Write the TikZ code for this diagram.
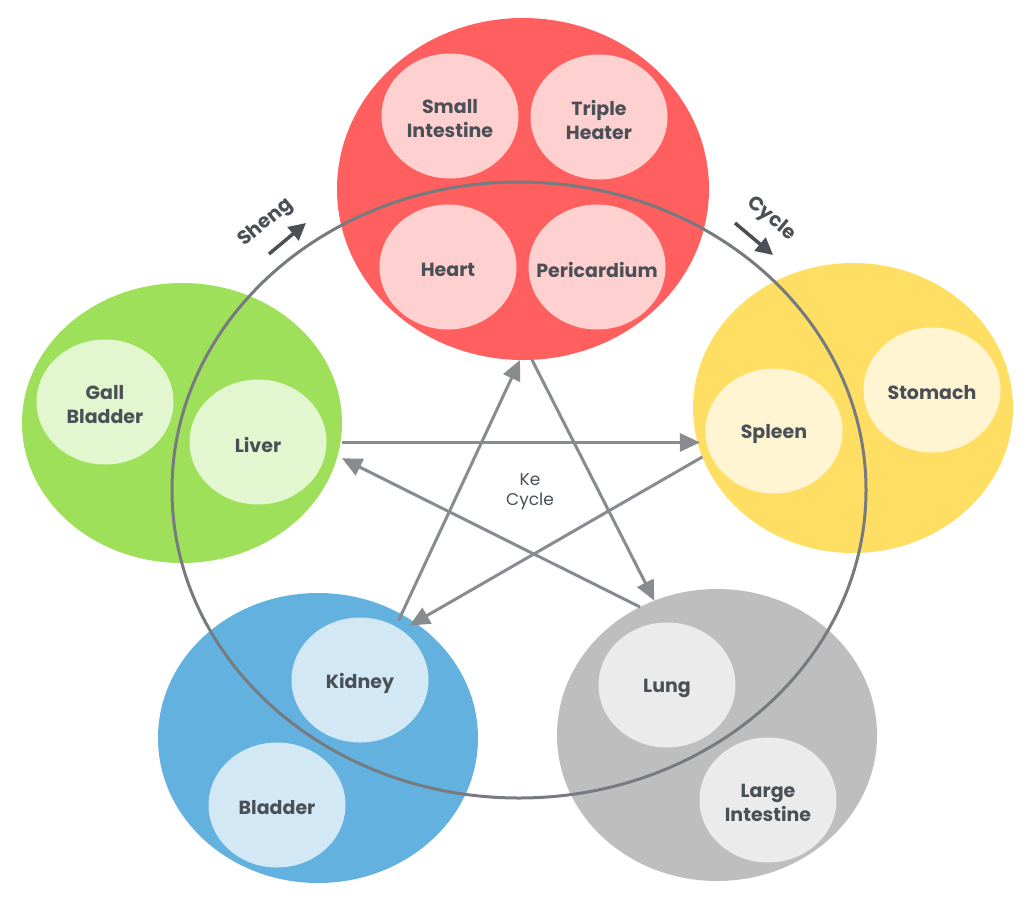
\documentclass[tikz,border=0pt]{standalone}
\usepackage{fontspec}
\setmainfont{Poppins}
\usetikzlibrary{shapes.geometric,arrows.meta}
\definecolor{firec}{HTML}{FF5F5F}
\definecolor{firein}{HTML}{FFD0D0}
\definecolor{woodc}{HTML}{9FE05A}
\definecolor{woodin}{HTML}{E2F6D0}
\definecolor{earthc}{HTML}{FFDF63}
\definecolor{earthin}{HTML}{FFF5D3}
\definecolor{waterc}{HTML}{62B1DF}
\definecolor{waterin}{HTML}{D2E8F5}
\definecolor{metalc}{HTML}{BEBEBE}
\definecolor{metalin}{HTML}{EBEBEB}
\definecolor{txtc}{HTML}{4B5057}
\definecolor{ringc}{HTML}{777A7F}
\definecolor{arrowc}{HTML}{888B90}
\tikzset{
  outer/.style={ellipse, inner sep=0pt, outer sep=0pt, minimum width=320pt, minimum height=290pt},
  orgtext/.style={text=txtc, font=\fontsize{19}{24}\selectfont\bfseries, align=center, inner sep=0pt, yshift=-3pt},
  organ/.style={ellipse, inner sep=0pt, outer sep=0pt, minimum width=137pt, minimum height=125pt,
    label={[orgtext]center:#1}},
  kearrow/.style={draw=arrowc, line width=3pt, -{Triangle[length=20pt,width=18pt]}},
  shengarrow/.style={draw=txtc, line width=3.5pt, -{Triangle[length=17pt,width=17pt]}},
  biglabel/.style={text=txtc, font=\fontsize{19.5}{24}\selectfont\bfseries, inner sep=0pt},
}
\begin{document}
\begin{tikzpicture}[x=1pt,y=-1pt]
\useasboundingbox (0,0) rectangle (1030,905);
\fill[white] (0,0) rectangle (1030,905);

% outer element ellipses
\node[outer, fill=firec, minimum width=372pt, minimum height=342pt] (fire) at (523,189) {};
\node[outer, fill=woodc, minimum height=280pt] (wood) at (182,423) {};
\node[outer, fill=earthc] (earth) at (853,408) {};
\node[outer, fill=waterc] (water) at (318,738) {};
\node[outer, fill=metalc, minimum height=292pt] (metal) at (717,735) {};

% organs
\node[organ={Small\\Intestine}, fill=firein] (smallint) at (450,116) {};
\node[organ={Triple\\Heater}, fill=firein] (triple) at (599,117) {};
\node[organ={Heart}, fill=firein] (heart) at (448,267) {};
\node[organ={Pericardium}, fill=firein] (peri) at (597,267) {};
\node[organ={Gall\\Bladder}, fill=woodin] (gall) at (105,402) {};
\node[organ={Liver}, fill=woodin] (liver) at (258,442) {};
\node[organ={Spleen}, fill=earthin] (spleen) at (774,431) {};
\node[organ={Stomach}, fill=earthin] (stomach) at (932,390) {};
\node[organ={Kidney}, fill=waterin] (kidney) at (360,680) {};
\node[organ={Bladder}, fill=waterin] (bladder) at (277,805) {};
\node[organ={Lung}, fill=metalin] (lung) at (667,685) {};
\node[organ={Large\\Intestine}, fill=metalin] (largeint) at (768,800) {};

% Sheng cycle ring
\node[ellipse, draw=ringc, line width=3pt, inner sep=0pt, minimum width=694pt, minimum height=616pt] (ring) at (519,490) {};

% Ke cycle arrows
\draw[kearrow, shorten <=2pt, shorten >=-2pt] (wood.-7) -- (wood.-7 -| earth.-167);
\draw[kearrow, shorten >=-6pt] (earth.-162) -- (water.50.4);
\draw[kearrow, shorten <=-7pt] (water.56.5) -- (fire.-91.7);
\draw[kearrow] (fire.-87) -- (metal.115.7);
\draw[kearrow, shorten >=5pt] (metal.121.6) -- (wood.-12.3);

\node[text=txtc, font=\fontsize{17}{20}\selectfont, align=center] (ke) at (530,492) {Ke\\Cycle};

% Sheng / Cycle labels
\coordinate (shengtail) at (269,254);
\coordinate (shengtip) at (306,223);
\draw[shengarrow] (shengtail) -- (shengtip);
\node[biglabel, rotate=40] (shenglabel) at (266,223) {Sheng};
\coordinate (cycletail) at (735,223);
\coordinate (cycletip) at (773,255);
\draw[shengarrow] (cycletail) -- (cycletip);
\node[biglabel, rotate=-40] (cyclelabel) at (771,219) {Cycle};
\end{tikzpicture}
\end{document}
